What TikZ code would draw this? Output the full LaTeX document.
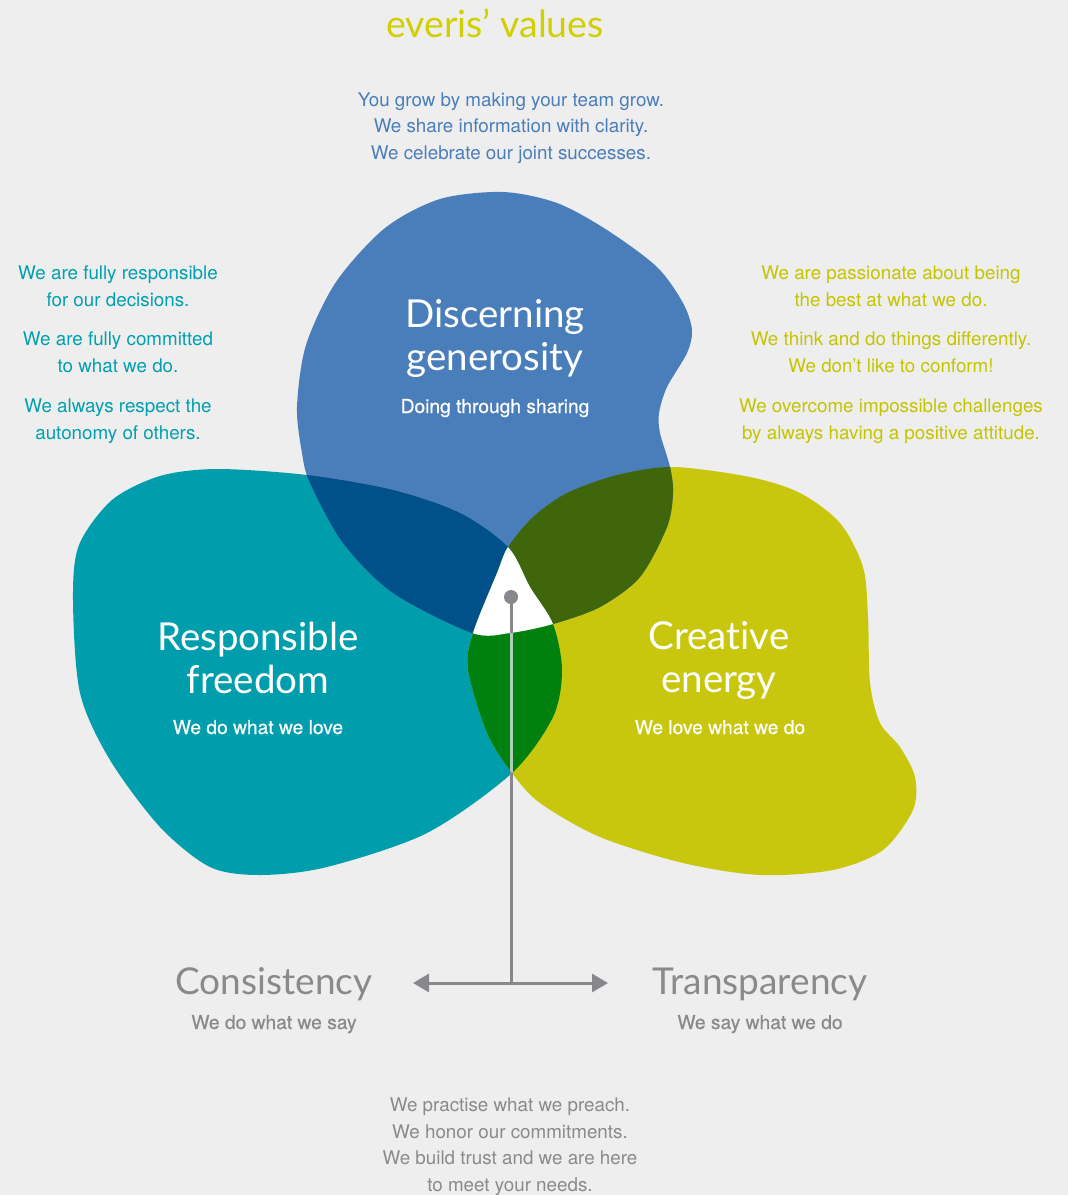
\documentclass[tikz,border=0pt]{standalone}
\usepackage{fontspec}
\setmainfont{TeX Gyre Heros}
\newfontfamily\titlefont[Ligatures=NoCommon]{Lato}
\newfontfamily\medfont[FakeBold=0.5]{TeX Gyre Heros}
\usetikzlibrary{arrows.meta}
\definecolor{bg}{HTML}{EEEEEE}
\definecolor{cblue}{HTML}{4A7EBA}
\definecolor{cteal}{HTML}{009EAD}
\definecolor{cyell}{HTML}{C8C70E}
\definecolor{cdblue}{HTML}{00508A}
\definecolor{colive}{HTML}{40660C}
\definecolor{cgreen}{HTML}{00800F}
\definecolor{cgray}{HTML}{87878C}
\definecolor{tblue}{HTML}{4A7EBA}
\definecolor{tteal}{HTML}{00A0B0}
\definecolor{tyell}{HTML}{C5C400}
\definecolor{ttitle}{HTML}{D2CF00}
\definecolor{tgray}{HTML}{8A8A8A}
\def\bluepath{plot[smooth cycle] coordinates {(503,192) (557,203) (607,230) (657,267) (683,303) (692,330) (687,353) (667,387) (659,413) (660,433) (670,467) (673,493) (667,527) (640,577) (600,607) (553,624) (510,633) (472,633) (393,593) (343,543) (310,483) (302,453) (297,407) (306,345) (336,282) (385,228) (440,199)}}
\def\tealpath{plot[smooth cycle] coordinates {(217,469) (307,475) (393,490) (460,513) (508,547) (530,587) (553,624) (562,670) (553,717) (512,773) (427,833) (327,867) (260,875) (210,867) (160,827) (110,760) (80,693) (73,600) (79,545) (112,500) (160,476)}}
\def\yellpath{plot[smooth cycle] coordinates {(673,467) (750,477) (800,493) (840,523) (863,567) (868,617) (870,683) (880,723) (900,747) (915,777) (913,810) (883,850) (833,870) (760,875) (683,863) (600,837) (540,803) (512,773) (487,733) (468,670) (473,633) (497,573) (508,547) (533,517) (567,493) (617,475)}}
\tikzset{
  bigtitle/.style={anchor=base, align=center, text=white, font=\titlefont\fontsize{38.5}{43}\selectfont},
  subtitle/.style={anchor=base, align=center, text=white, font=\medfont\fontsize{19.2}{22}\selectfont},
  sidetext/.style={anchor=base, align=center, font=\fontsize{18.8}{26.5}\selectfont},
  graytitle/.style={anchor=base, align=center, text=tgray, font=\titlefont\fontsize{37}{44}\selectfont},
  conn/.style={draw=cgray, line width=3pt},
  arrowconn/.style={conn, -{Triangle[length=16pt,width=18pt]}},
}
\begin{document}
\begin{tikzpicture}[x=1pt,y=-1pt]
\path[use as bounding box, fill=bg] (0,0) rectangle (1068,1195);
% blobs
\fill[cteal] \tealpath;
\fill[cyell] \yellpath;
\fill[cblue] \bluepath;
\begin{scope}
  \clip \bluepath;
  \fill[cdblue] \tealpath;
  \fill[colive] \yellpath;
\end{scope}
\begin{scope}
  \clip \tealpath;
  \fill[cgreen] \yellpath;
  \clip \yellpath;
  \fill[white] \bluepath;
\end{scope}
% connectors
\node[circle, fill=cgray, inner sep=0pt, minimum size=14pt] (dot) at (511,597) {};
\coordinate (junc) at (511,983);
\coordinate (larr) at (413,983);
\coordinate (rarr) at (608,983);
\draw[conn] (dot.center) -- (junc);
\begin{scope}
  \clip \tealpath;
  \clip \yellpath;
  \clip (0,633) rectangle (1068,1195);
  \draw[draw=cgray!45!cgreen!40!white, line width=3pt] (dot.center) -- (junc);
\end{scope}
\draw[arrowconn] (junc) -- (larr);
\draw[arrowconn] (junc) -- (rarr);
% title
\node[anchor=base, text=ttitle, font=\titlefont\fontsize{37.5}{40}\selectfont] (title) at (495,37) {everis’ values};
% top text (base anchor = last line)
\node[sidetext, text=tblue] (toptext) at (511,159) {You grow by making your team grow.\\We share information with clarity.\\We celebrate our joint successes.};
% left text
\node[sidetext, text=tteal] (left1) at (118,306) {We are fully responsible\\for our decisions.};
\node[sidetext, text=tteal] (left2) at (118,372) {We are fully committed\\to what we do.};
\node[sidetext, text=tteal] (left3) at (118,439) {We always respect the\\autonomy of others.};
% right text
\node[sidetext, text=tyell] (right1) at (891,306) {We are passionate about being\\the best at what we do.};
\node[sidetext, text=tyell] (right2) at (891,372) {We think and do things differently.\\We don’t like to conform!};
\node[sidetext, text=tyell] (right3) at (891,439) {We overcome impossible challenges\\by always having a positive attitude.};
% blob titles
\node[bigtitle] (disc) at (495,370) {Discerning\\generosity};
\node[subtitle] (discsub) at (495,413) {Doing through sharing};
\node[bigtitle] (resp) at (258,693) {Responsible\\freedom};
\node[subtitle] (respsub) at (258,734) {We do what we love};
\node[bigtitle] (crea) at (719,692) {Creative\\energy};
\node[subtitle] (creasub) at (720,734) {We love what we do};
% bottom
\node[graytitle] (cons) at (274,994) {Consistency};
\node[subtitle, text=tgray] (conssub) at (274,1029) {We do what we say};
\node[graytitle] (trans) at (760,994) {Transparency};
\node[subtitle, text=tgray] (transsub) at (760,1029) {We say what we do};
\node[sidetext, text=tgray] (bottom) at (510,1191) {We practise what we preach.\\We honor our commitments.\\We build trust and we are here\\to meet your needs.};
\end{tikzpicture}
\end{document}
